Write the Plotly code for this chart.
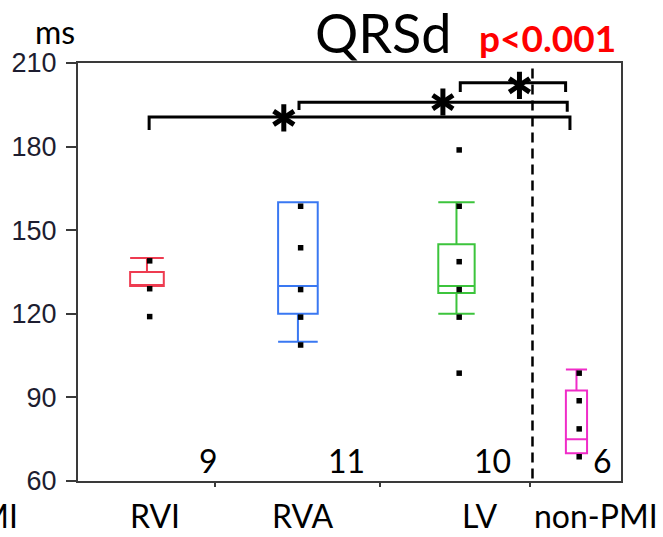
import plotly.graph_objects as go

# ---------------- data ----------------
groups = ["RVI", "RVA", "LV", "non-PMI"]
group_pos = [1.27, 4.05, 6.97, 9.18]          # x positions on a 0..10 axis
box_width = [0.62, 0.73, 0.67, 0.39]
colors = ["#ee3b50", "#3a78f2", "#3cc43c", "#f02cc8"]

q1 = [130, 120, 127.5, 70]
median = [130, 130, 130, 75]
q3 = [135, 160, 145, 92.5]
lower_fence = [130, 110, 120, 70]
upper_fence = [140, 160, 160, 100]

points = [
    [139, 129, 119],
    [158.6, 143.7, 128.7, 118.8, 108.8],
    [178.8, 158.6, 138.7, 128.7, 118.8, 98.7],
    [98.7, 88.8, 78.7, 68.7],
]
counts = ["9", "11", "10", "6"]

y_ticks = [60, 90, 120, 150, 180, 210]
x_boundary_ticks = [2.52, 5.57, 8.33]
divider_x = 8.37

# significance brackets (each to non-PMI)
br_left = [1.31, 4.07, 7.04]
br_right = [9.06, 9.01, 8.98]
br_level = [190.6, 195.9, 202.9]
br_drop_left = [186.0, 193.1, 199.6]
br_drop_right = [186.0, 192.5, 199.6]
star_x = [3.79, 6.72, 8.13]
star_y = [190.3, 196.0, 202.0]

# ---------------- figure ----------------
W, H = 663, 537
L, R, T, B = 70, 42, 63, 56
PW, PH = W - L - R, H - T - B


def px(x):
    return (x - L) / PW


def py(y):
    return (H - B - y) / PH


fig = go.Figure()

for i, g in enumerate(groups):
    fig.add_trace(go.Box(
        x=[group_pos[i]], q1=[q1[i]], median=[median[i]], q3=[q3[i]],
        lowerfence=[lower_fence[i]], upperfence=[upper_fence[i]],
        width=box_width[i], whiskerwidth=1, boxpoints=False,
        line=dict(color=colors[i], width=2), fillcolor="rgba(0,0,0,0)",
        name=g, showlegend=False, hoverinfo="skip",
    ))
    fig.add_trace(go.Scatter(
        x=[group_pos[i] + 0.05] * len(points[i]), y=points[i], mode="markers",
        marker=dict(symbol="square", size=5.5, color="black"),
        showlegend=False, hoverinfo="skip",
    ))

# brackets
for i in range(len(br_left)):
    fig.add_shape(
        type="path", xref="x", yref="y",
        path=(f"M {br_left[i]},{br_drop_left[i]} L {br_left[i]},{br_level[i]} "
              f"L {br_right[i]},{br_level[i]} L {br_right[i]},{br_drop_right[i]}"),
        line=dict(color="black", width=3),
    )

# divider
fig.add_shape(type="line", xref="x", yref="y", x0=divider_x, x1=divider_x,
              y0=208, y1=60, line=dict(color="black", width=2.5, dash="10px,6px"))

# asterisks (6-armed, made from two Y symbols)
for sym in ["y-up", "y-down"]:
    fig.add_trace(go.Scatter(
        x=star_x, y=star_y, mode="markers",
        marker=dict(symbol=sym, size=17, color="black",
                    line=dict(color="black", width=5)),
        showlegend=False, hoverinfo="skip",
    ))

font_main = "Lato, Carlito, Calibri, sans-serif"

ann = []
# title & p-value & units
ann.append(dict(text="QRSd", x=px(379), y=py(33), font=dict(size=54, color="black", family=font_main)))
ann.append(dict(text="<b>p<0.001</b>", x=px(546), y=py(37), font=dict(size=37, color="#ff0000", family=font_main)))
ann.append(dict(text="ms", x=px(47), y=py(31), font=dict(size=32, color="black", family=font_main)))

# counts
count_right_px = [214, 363, 511, 614]
for c, xr in zip(counts, count_right_px):
    ann.append(dict(text=c, x=px(xr), y=py(460), xanchor="right",
                    font=dict(size=32, color="black", family=font_main)))

# category labels
label_x_px = [148, 298, 478]
for g, xc in zip(groups[:3], label_x_px):
    ann.append(dict(text=g, x=px(xc), y=py(537), xanchor="center", yanchor="bottom",
                    font=dict(size=32, color="black", family=font_main)))
ann.append(dict(text=groups[3], x=px(531), y=py(537), xanchor="left", yanchor="bottom",
                font=dict(size=32, color="black", family=font_main)))
ann.append(dict(text="PMI", x=px(11), y=py(537), xanchor="right", yanchor="bottom",
                font=dict(size=32, color="black", family=font_main)))

for a in ann:
    a.update(xref="paper", yref="paper", showarrow=False)
    a.setdefault("xanchor", "center")
    a.setdefault("yanchor", "middle")

fig.update_layout(
    width=W, height=H,
    margin=dict(l=L, r=R, t=T, b=B, pad=0),
    paper_bgcolor="white", plot_bgcolor="white",
    annotations=ann,
    xaxis=dict(range=[0, 10], showgrid=False, zeroline=False,
               showline=True, linecolor="#3a3a3a", linewidth=2, mirror=True,
               tickmode="array", tickvals=x_boundary_ticks, ticktext=["", "", ""],
               ticks="outside", ticklen=4, tickwidth=1.5, tickcolor="#3a3a3a"),
    yaxis=dict(range=[60, 210], showgrid=False, zeroline=False,
               showline=True, linecolor="#3a3a3a", linewidth=2, mirror=True,
               tickmode="array", tickvals=y_ticks,
               ticks="outside", ticklen=10, tickwidth=2, tickcolor="#3a3a3a",
               ticklabelstandoff=4,
               tickfont=dict(family="Liberation Sans Narrow, Liberation Sans, sans-serif",
                             size=27, color="#1d1d30")),
)

fig.write_html("out.html")
